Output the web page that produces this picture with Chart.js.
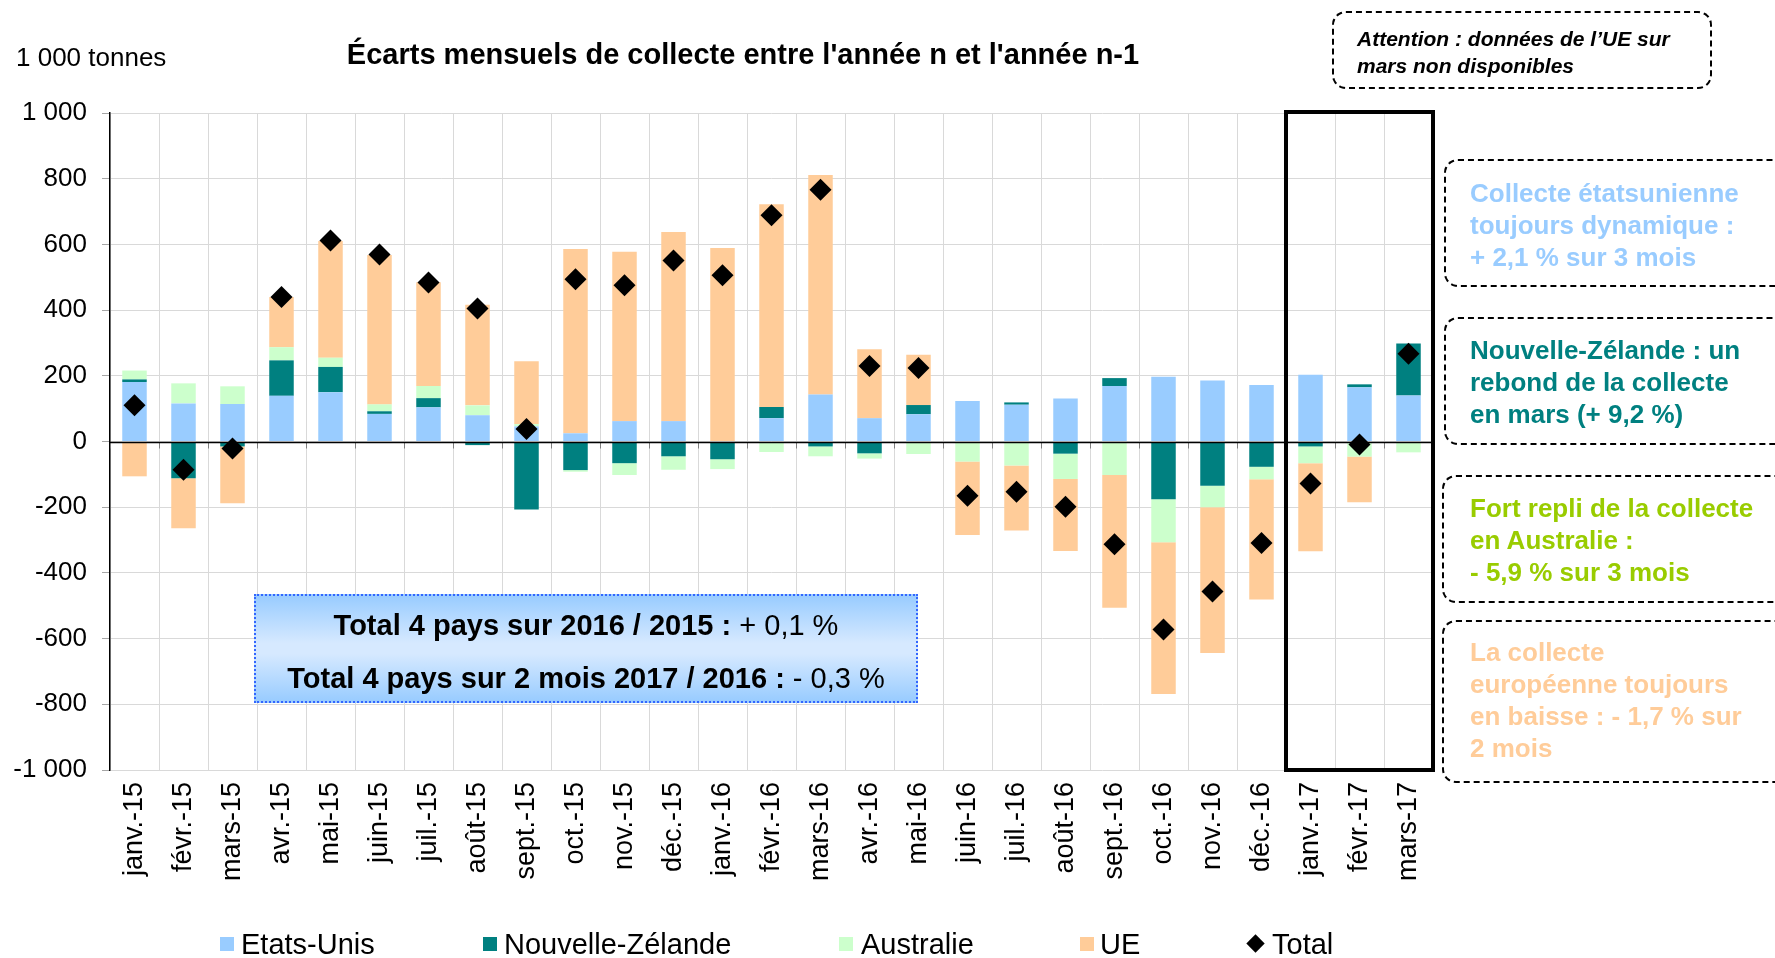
<!DOCTYPE html>
<html lang="fr">
<head>
<meta charset="utf-8">
<title>Écarts mensuels de collecte</title>
<script src="https://cdn.jsdelivr.net/npm/chart.js@4.4.1/dist/chart.umd.min.js"></script>
<style>
  html, body { margin: 0; padding: 0; background: #fff; overflow: hidden; }
  body { font-family: 'Liberation Sans', Arial, sans-serif; color: #000; }
  #wrap { position: relative; width: 1775px; height: 958px; overflow: hidden; }
  #chart { position: absolute; left: 0; top: 0; }
  .t { position: absolute; white-space: nowrap; line-height: 1; }
  .box { position: absolute; box-sizing: border-box; border: 2px dashed #000; border-radius: 14px; white-space: nowrap; font-weight: bold; }
  .legend-item { position: absolute; top: 929px; height: 30px; line-height: 30px; font-size: 29px; white-space: nowrap; }
  .legend-sw { position: absolute; width: 14px; height: 14px; top: 8px; }
  .summary { position: absolute; left: 254px; top: 594px; width: 664px; height: 109px; box-sizing: border-box;
    border: 2px dotted #3366ff;
    background: linear-gradient(to bottom, #99ccff 0%, #d6e9ff 45%, #d6e9ff 55%, #99ccff 100%);
    text-align: center; font-size: 29px; }
  .summary div { position: absolute; left: 0; right: 0; line-height: 1; }
</style>
</head>
<body>
<div id="wrap">
  <canvas id="chart" width="1775" height="958"></canvas>

  <div class="t" style="left:16px;top:44px;font-size:26px;">1 000 tonnes</div>
  <div class="t" style="left:743px;top:40px;font-size:29px;font-weight:bold;transform:translateX(-50%);">Écarts mensuels de collecte entre l'année n et l'année n-1</div>

  <div class="box" style="left:1332px;top:11px;width:380px;height:78px;font-style:italic;font-size:21px;line-height:27px;padding:12px 0 0 23px;">Attention : données de l’UE sur<br>mars non disponibles</div>

  <div class="box" style="left:1444px;top:159px;width:400px;height:128px;font-size:26px;line-height:32px;padding:16px 0 0 24px;color:#99ccff;">Collecte étatsunienne<br>toujours dynamique :<br>+ 2,1 % sur 3 mois</div>
  <div class="box" style="left:1444px;top:317px;width:400px;height:128px;font-size:26px;line-height:32px;padding:15px 0 0 24px;color:#008080;">Nouvelle-Zélande : un<br>rebond de la collecte<br>en mars (+ 9,2 %)</div>
  <div class="box" style="left:1442px;top:475px;width:400px;height:128px;font-size:26px;line-height:32px;padding:15px 0 0 26px;color:#99cc00;">Fort repli de la collecte<br>en Australie :<br>- 5,9 % sur 3 mois</div>
  <div class="box" style="left:1442px;top:620px;width:400px;height:163px;font-size:26px;line-height:32px;padding:14px 0 0 26px;color:#ffcc99;">La collecte<br>européenne toujours<br>en baisse : - 1,7 % sur<br>2 mois</div>

  <div class="summary">
    <div style="top:15px;"><b>Total 4 pays sur 2016 / 2015 :</b> + 0,1 %</div>
    <div style="top:68px;"><b>Total 4 pays sur 2 mois 2017 / 2016 :</b> - 0,3 %</div>
  </div>

  <div id="legend"></div>
</div>

<script>
// catégories (mois)
const categories = ['janv.-15', 'févr.-15', 'mars-15', 'avr.-15', 'mai-15', 'juin-15', 'juil.-15', 'août-15', 'sept.-15',
  'oct.-15', 'nov.-15', 'déc.-15', 'janv.-16', 'févr.-16', 'mars-16', 'avr.-16', 'mai-16', 'juin-16', 'juil.-16',
  'août-16', 'sept.-16', 'oct.-16', 'nov.-16', 'déc.-16', 'janv.-17', 'févr.-17', 'mars-17'];

// écarts en 1 000 tonnes
const etatsUnis       = [181, 116, 114, 139, 150, 84, 104, 80, 46, 25, 62, 62, 0, 71, 143, 71, 83, 123, 112, 131, 169, 197, 186, 172, 203, 165, 140];
const nouvelleZelande = [8, -112, -15, 108, 77, 8, 28, -11, -207, -87, -66, -45, -54, 34, -15, -36, 28, 0, 7, -37, 24, -176, -135, -77, -15, 9, 158];
const australie       = [27, 61, 54, 40, 28, 21, 37, 30, 7, -5, -36, -41, -30, -32, -30, -16, -38, -61, -73, -77, -102, -131, -65, -38, -51, -46, -33];
const ue              = [-106, -152, -173, 153, 355, 455, 316, 306, 191, 561, 516, 576, 589, 617, 668, 210, 153, -224, -198, -219, -404, -462, -444, -366, -268, -139, null];
const total           = [110, -86, -21, 440, 612, 569, 484, 405, 38, 494, 476, 551, 506, 689, 766, 230, 224, -165, -153, -199, -313, -572, -457, -309, -128, -9, 267];

const yTicks = { min: -1000, max: 1000, step: 200 };
const highlightFrom = 'janv.-17';

const series = [
  { label: 'Etats-Unis', data: etatsUnis, color: '#99ccff' },
  { label: 'Nouvelle-Zélande', data: nouvelleZelande, color: '#008080' },
  { label: 'Australie', data: australie, color: '#ccffcc' },
  { label: 'UE', data: ue, color: '#ffcc99' },
];

const FONT = "'Liberation Sans', Arial, sans-serif";

function frNumber(v) {
  const s = Math.abs(v).toString().replace(/\B(?=(\d{3})+(?!\d))/g, ' ');
  return (v < 0 ? '-' : '') + s;
}

// axe à zéro + petites graduations, cadre noir sur 2017
const extras = {
  id: 'extras',
  afterDatasetDraw(chart, args) {
    if (args.index !== 0) return;
    const { ctx, chartArea: a, scales: { x, y } } = chart;
    const y0 = Math.round(y.getPixelForValue(0)) + 0.5;
    const half = (x.getPixelForValue(1) - x.getPixelForValue(0)) / 2;
    ctx.save();
    ctx.strokeStyle = '#7f7f7f';
    ctx.lineWidth = 1;
    ctx.beginPath();
    for (let i = 0; i <= categories.length; i++) {
      const px = Math.round(x.getPixelForValue(i) - half) + 0.5;
      ctx.moveTo(px, y0);
      ctx.lineTo(px, y0 + 6);
    }
    ctx.stroke();
    ctx.strokeStyle = '#000';
    ctx.lineWidth = 1.5;
    ctx.beginPath();
    ctx.moveTo(a.left, y0);
    ctx.lineTo(a.right, y0);
    ctx.stroke();
    ctx.restore();
  },
  afterDraw(chart) {
    const { ctx, chartArea: a, scales: { x } } = chart;
    const i0 = categories.indexOf(highlightFrom);
    const half = (x.getPixelForValue(1) - x.getPixelForValue(0)) / 2;
    const left = x.getPixelForValue(i0) - half;
    ctx.save();
    ctx.strokeStyle = '#000';
    ctx.lineWidth = 4;
    ctx.strokeRect(left, a.top - 1, a.right - left, a.bottom - a.top + 1);
    ctx.restore();
  }
};

new Chart(document.getElementById('chart'), {
  type: 'bar',
  data: {
    labels: categories,
    datasets: [
      ...series.map(s => ({
        type: 'bar', label: s.label, data: s.data, backgroundColor: s.color,
        borderWidth: 0, stack: 'pays', order: 1,
        categoryPercentage: 1, barPercentage: 0.5,
      })),
      {
        type: 'line', label: 'Total', data: total, stack: 'total', order: 0,
        showLine: false, pointStyle: 'rectRot', pointRadius: 11, pointHoverRadius: 11,
        pointBackgroundColor: '#000', pointBorderColor: '#000', pointBorderWidth: 0,
      },
    ],
  },
  options: {
    responsive: false, animation: false,
    layout: { padding: { left: 0, top: 113, right: 342, bottom: 0 } },
    plugins: { legend: { display: false }, tooltip: { enabled: false } },
    scales: {
      x: {
        stacked: true,
        grid: { color: '#d9d9d9', lineWidth: 1, drawTicks: false, offset: true },
        border: { display: false },
        ticks: { color: '#000', font: { family: FONT, size: 27 }, minRotation: 90, maxRotation: 90, padding: 12, autoSkip: false },
        afterFit: scale => { scale.height = 188; },
      },
      y: {
        stacked: true,
        min: yTicks.min, max: yTicks.max,
        grid: { color: '#d9d9d9', lineWidth: 1, tickLength: 8, tickColor: '#a6a6a6' },
        border: { display: true, color: '#000', width: 1.5 },
        ticks: { stepSize: yTicks.step, color: '#000', font: { family: FONT, size: 26 }, padding: 15, callback: v => frNumber(v) },
        afterFit: scale => { scale.width = 110; },
      },
    },
  },
  plugins: [extras],
});

// légende
const legendPos = [
  { sw: 220, txt: 241 }, { sw: 483, txt: 504 }, { sw: 839, txt: 861 }, { sw: 1080, txt: 1100 }, { sw: 1247, txt: 1272 },
];
const legendEl = document.getElementById('legend');
legendEl.innerHTML = [...series.map(s => ({ label: s.label, color: s.color, diamond: false })), { label: 'Total', color: '#000', diamond: true }]
  .map((s, i) => {
    const p = legendPos[i];
    const sw = s.diamond
      ? `<span class="legend-sw" style="left:2px;width:13px;height:13px;top:8px;background:#000;transform:rotate(45deg);"></span>`
      : `<span class="legend-sw" style="left:0;background:${s.color}"></span>`;
    return `<div class="legend-item" style="left:${p.sw}px;">${sw}<span style="position:absolute;left:${p.txt - p.sw}px;">${s.label}</span></div>`;
  }).join('');
</script>
</body>
</html>
